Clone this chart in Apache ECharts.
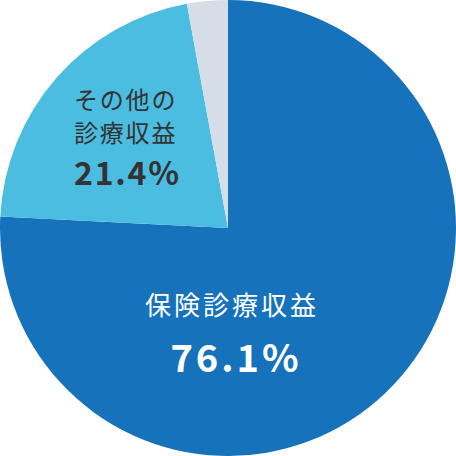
<!DOCTYPE html>
<html>
<head>
<meta charset="utf-8">
<script src="https://cdn.jsdelivr.net/npm/echarts@6/dist/echarts.min.js"></script>
<style>
html,body{margin:0;padding:0;background:#fff}
#c{width:456px;height:456px}
#c text{letter-spacing:3px}
#c text[fill="#333"], #c text[fill="#333333"], #c text[fill="rgb(51,51,51)"]{letter-spacing:1.8px}
</style>
</head>
<body>
<div id="c"></div>
<script>
const names = ['保険診療収益', 'その他の\n診療収益', 'その他'];
const values = [76.1, 21.4, 2.9];
const colors = ['#1572bb', '#4bbde0', '#d5dde6'];

const chart = echarts.init(document.getElementById('c'), null, {renderer: 'svg'});
const font = '"Noto Sans CJK JP", "Noto Sans", sans-serif';
chart.setOption({
  animation: false,
  series: [{
    type: 'pie',
    center: ['50%', '50%'],
    radius: ['0%', '100%'],
    startAngle: 90,
    clockwise: true,
    silent: true,
    itemStyle: {borderWidth: 0},
    data: names.map((n, i) => ({
      name: n,
      value: values[i],
      itemStyle: {color: colors[i]},
      label: i === 0 ? {
        show: true,
        position: 'inside',
        align: 'center',
        verticalAlign: 'middle',
        formatter: p => '{n|' + p.name + '}\n{p|' + p.value.toFixed(1) + '%}',
        rich: {
          n: {fontSize: 26, lineHeight: 50, color: '#fff', fontFamily: font, align: 'center'},
          p: {fontSize: 38, lineHeight: 54, color: '#fff', fontWeight: 'bold', fontFamily: font, align: 'center', padding: [0,0,0,8]}
        }
      } : i === 1 ? {
        show: true,
        position: 'inside',
        align: 'left',
        verticalAlign: 'middle',
        formatter: p => '{n|' + p.name + '}\n{p|' + p.value.toFixed(1) + '%}',
        rich: {
          n: {fontSize: 24, lineHeight: 33, color: '#333', fontFamily: font, align: 'left'},
          p: {fontSize: 32, lineHeight: 46, color: '#333', fontWeight: 'bold', fontFamily: font, align: 'left'}
        }
      } : {show: false}
    })),
    labelLine: {show: false},
    labelLayout: function (params) {
      if (params.dataIndex === 0) return {x: 232, y: 330, align: 'center', verticalAlign: 'middle'};
      if (params.dataIndex === 1) return {x: 74, y: 138, align: 'left', verticalAlign: 'middle'};
      return {};
    }
  }]
});
</script>
</body>
</html>
